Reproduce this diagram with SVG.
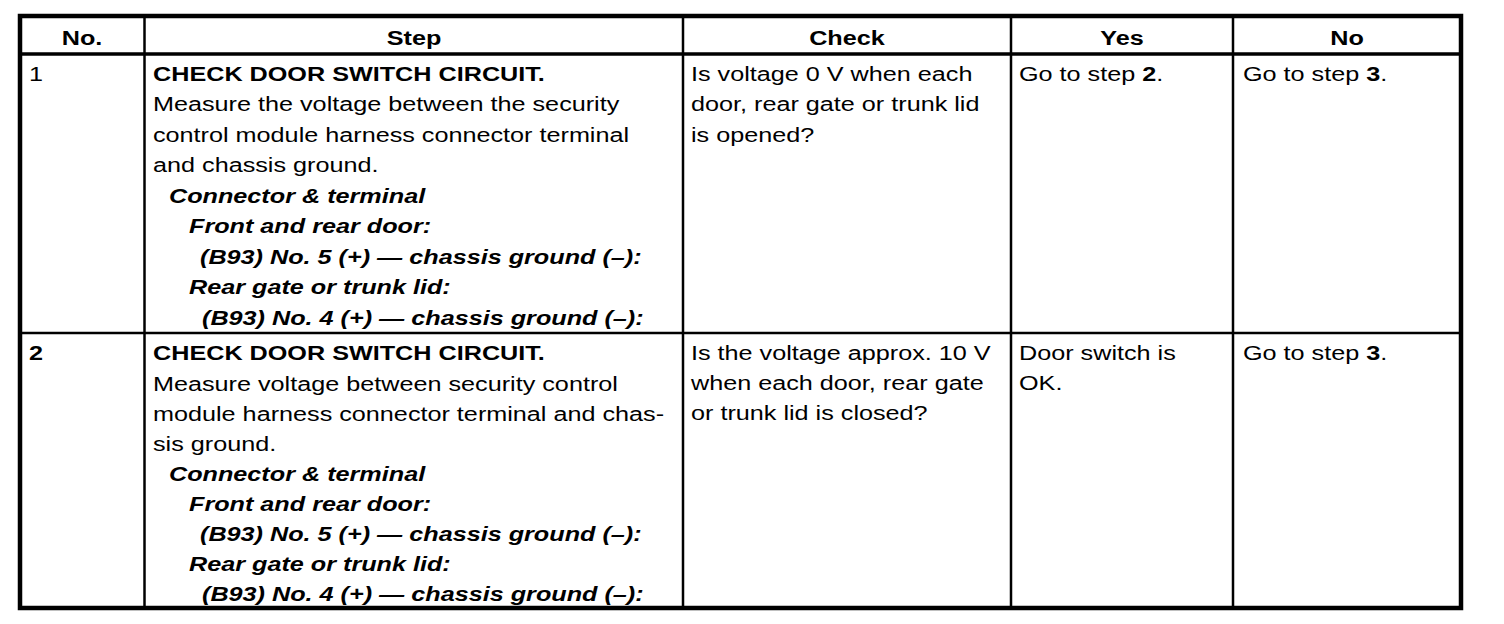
<svg xmlns="http://www.w3.org/2000/svg" width="1504" height="624" viewBox="0 0 1504 624">
<style>
  text { font-family: "Liberation Sans", Arial, Helvetica, sans-serif; font-size: 21px; fill: #000; }
  .h { font-weight: bold; text-anchor: middle; }
  .b { font-weight: bold; }
  .bi { font-weight: bold; font-style: italic; }
  .outer { fill: none; stroke: #000; stroke-width: 4.5; }
  .thick { stroke: #000; stroke-width: 3.5; }
  .thin { stroke: #000; stroke-width: 2.5; }
</style>
<rect width="1504" height="624" fill="#fff"/>
<g id="grid">
  <line class="thick" x1="20" y1="54" x2="1461" y2="54"/>
  <line class="thin" x1="20" y1="333" x2="1461" y2="333"/>
  <line class="thin" x1="144.5" y1="16" x2="144.5" y2="608"/>
  <line class="thin" x1="683" y1="16" x2="683" y2="608"/>
  <line class="thin" x1="1011" y1="16" x2="1011" y2="608"/>
  <line class="thin" x1="1233" y1="16" x2="1233" y2="608"/>
  <rect class="outer" x="20" y="16" width="1441" height="592"/>
</g>
<g transform="scale(1.2 1)">
  <g id="header">
    <text class="h" x="68.33" y="45">No.</text>
    <text class="h" x="345" y="45">Step</text>
    <text class="h" x="705.83" y="45">Check</text>
    <text class="h" x="935" y="45">Yes</text>
    <text class="h" x="1122.5" y="45">No</text>
  </g>
  <g id="row1">
    <text x="24.17" y="81">1</text>
    <text class="b" x="127.5" y="81">CHECK DOOR SWITCH CIRCUIT.</text>
    <text x="127.5" y="111.5">Measure the voltage between the security</text>
    <text x="127.5" y="142">control module harness connector terminal</text>
    <text x="127.5" y="172.5">and chassis ground.</text>
    <text class="bi" x="140.83" y="203">Connector &amp; terminal</text>
    <text class="bi" x="157.5" y="233.5">Front and rear door:</text>
    <text class="bi" x="166.67" y="264">(B93) No. 5 (+) — chassis ground (–):</text>
    <text class="bi" x="157.5" y="294.5">Rear gate or trunk lid:</text>
    <text class="bi" x="168.33" y="325">(B93) No. 4 (+) — chassis ground (–):</text>
    <text x="575.83" y="81">Is voltage 0 V when each</text>
    <text x="575.83" y="111.5">door, rear gate or trunk lid</text>
    <text x="575.83" y="142">is opened?</text>
    <text x="849.17" y="81">Go to step <tspan class="b">2</tspan>.</text>
    <text x="1035.83" y="81">Go to step <tspan class="b">3</tspan>.</text>
  </g>
  <g id="row2">
    <text class="b" x="24.17" y="360">2</text>
    <text class="b" x="127.5" y="360">CHECK DOOR SWITCH CIRCUIT.</text>
    <text x="127.5" y="391">Measure voltage between security control</text>
    <text x="127.5" y="421">module harness connector terminal and chas-</text>
    <text x="127.5" y="451">sis ground.</text>
    <text class="bi" x="140.83" y="481">Connector &amp; terminal</text>
    <text class="bi" x="157.5" y="511">Front and rear door:</text>
    <text class="bi" x="166.67" y="541">(B93) No. 5 (+) — chassis ground (–):</text>
    <text class="bi" x="157.5" y="571">Rear gate or trunk lid:</text>
    <text class="bi" x="168.33" y="601">(B93) No. 4 (+) — chassis ground (–):</text>
    <text x="575.83" y="360">Is the voltage approx. 10 V</text>
    <text x="575.83" y="390">when each door, rear gate</text>
    <text x="575.83" y="420">or trunk lid is closed?</text>
    <text x="849.17" y="360">Door switch is</text>
    <text x="849.17" y="390">OK.</text>
    <text x="1035.83" y="360">Go to step <tspan class="b">3</tspan>.</text>
  </g>
</g>
</svg>
